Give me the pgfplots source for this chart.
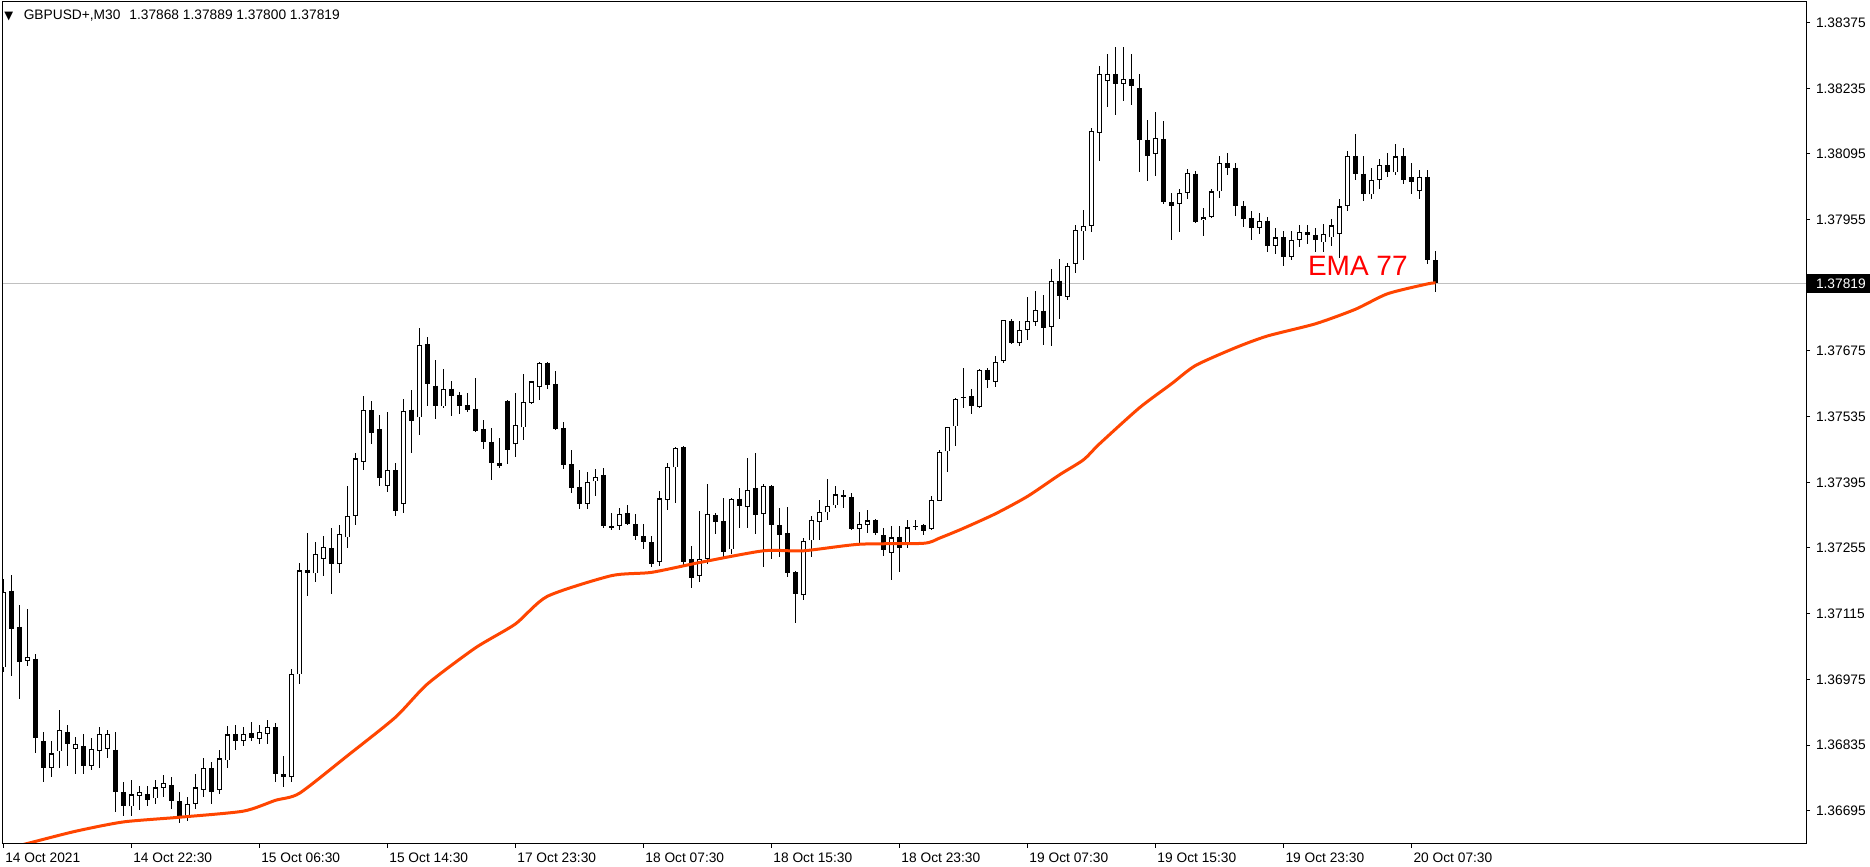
\documentclass[border=0pt]{standalone}
\usepackage{pgfplots}
\pgfplotsset{compat=1.18}
\usepackage{pgfplotstable}
\usepackage{fontspec}
\setmainfont{Liberation Sans}
\newfontfamily\symfont{DejaVu Sans}
\definecolor{emaline}{RGB}{255,69,0}
\definecolor{ematext}{RGB}{255,0,0}
\definecolor{priceline}{RGB}{192,192,192}

% GBPUSD M30 bars: index, open, high, low, close
\pgfplotstableread{
i o h l c
0 1.37001 1.37189 1.36991 1.37162
1 1.37164 1.37198 1.36983 1.37083
2 1.37087 1.37134 1.36933 1.37012
3 1.37014 1.37125 1.37004 1.37022
4 1.37019 1.37029 1.36817 1.36850
5 1.36843 1.36863 1.36756 1.36786
6 1.36786 1.36843 1.36766 1.36817
7 1.36822 1.36909 1.36786 1.36868
8 1.36863 1.36878 1.36791 1.36837
9 1.36827 1.36853 1.36773 1.36837
10 1.36832 1.36858 1.36773 1.36791
11 1.36791 1.36850 1.36781 1.36827
12 1.36822 1.36873 1.36786 1.36858
13 1.36827 1.36868 1.36807 1.36858
14 1.36825 1.36863 1.36692 1.36735
15 1.36735 1.36756 1.36684 1.36704
16 1.36704 1.36761 1.36684 1.36730
17 1.36727 1.36748 1.36697 1.36735
18 1.36730 1.36748 1.36704 1.36717
19 1.36722 1.36761 1.36710 1.36745
20 1.36743 1.36771 1.36725 1.36753
21 1.36750 1.36766 1.36699 1.36715
22 1.36715 1.36735 1.36669 1.36684
23 1.36684 1.36725 1.36674 1.36710
24 1.36710 1.36773 1.36699 1.36745
25 1.36740 1.36807 1.36725 1.36786
26 1.36786 1.36799 1.36710 1.36735
27 1.36740 1.36825 1.36730 1.36807
28 1.36802 1.36876 1.36786 1.36858
29 1.36858 1.36878 1.36825 1.36843
30 1.36843 1.36873 1.36832 1.36858
31 1.36860 1.36883 1.36843 1.36850
32 1.36848 1.36878 1.36837 1.36863
33 1.36858 1.36889 1.36837 1.36873
34 1.36873 1.36883 1.36756 1.36773
35 1.36773 1.36812 1.36745 1.36766
36 1.36766 1.36997 1.36756 1.36986
37 1.36986 1.37224 1.36965 1.37208
38 1.37209 1.37288 1.37152 1.37202
39 1.37201 1.37267 1.37183 1.37242
40 1.37232 1.37280 1.37196 1.37257
41 1.37255 1.37298 1.37157 1.37221
42 1.37221 1.37303 1.37201 1.37285
43 1.37278 1.37388 1.37255 1.37324
44 1.37324 1.37457 1.37303 1.37446
45 1.37439 1.37580 1.37421 1.37549
46 1.37549 1.37569 1.37477 1.37501
47 1.37508 1.37539 1.37388 1.37405
48 1.37388 1.37544 1.37375 1.37421
49 1.37421 1.37436 1.37324 1.37334
50 1.37349 1.37572 1.37329 1.37548
51 1.37550 1.37592 1.37457 1.37525
52 1.37534 1.37725 1.37495 1.37688
53 1.37690 1.37705 1.37557 1.37604
54 1.37601 1.37656 1.37529 1.37557
55 1.37557 1.37637 1.37554 1.37595
56 1.37595 1.37612 1.37537 1.37580
57 1.37582 1.37587 1.37541 1.37558
58 1.37560 1.37586 1.37544 1.37550
59 1.37552 1.37618 1.37504 1.37505
60 1.37509 1.37528 1.37467 1.37482
61 1.37482 1.37511 1.37400 1.37437
62 1.37437 1.37490 1.37426 1.37429
63 1.37569 1.37571 1.37434 1.37464
64 1.37476 1.37586 1.37449 1.37518
65 1.37512 1.37626 1.37486 1.37567
66 1.37565 1.37612 1.37562 1.37610
67 1.37599 1.37651 1.37571 1.37650
68 1.37650 1.37651 1.37594 1.37603
69 1.37605 1.37633 1.37507 1.37509
70 1.37511 1.37524 1.37424 1.37432
71 1.37434 1.37464 1.37373 1.37383
72 1.37386 1.37422 1.37339 1.37349
73 1.37349 1.37416 1.37339 1.37396
74 1.37397 1.37424 1.37365 1.37407
75 1.37411 1.37426 1.37298 1.37301
76 1.37301 1.37329 1.37294 1.37297
77 1.37302 1.37341 1.37294 1.37327
78 1.37329 1.37347 1.37304 1.37306
79 1.37306 1.37328 1.37272 1.37280
80 1.37280 1.37306 1.37252 1.37267
81 1.37267 1.37280 1.37214 1.37221
82 1.37226 1.37377 1.37216 1.37361
83 1.37357 1.37436 1.37336 1.37427
84 1.37427 1.37470 1.37351 1.37468
85 1.37470 1.37472 1.37216 1.37226
86 1.37232 1.37260 1.37170 1.37191
87 1.37196 1.37334 1.37183 1.37232
88 1.37232 1.37392 1.37221 1.37327
89 1.37325 1.37329 1.37285 1.37310
90 1.37312 1.37362 1.37234 1.37247
91 1.37252 1.37361 1.37242 1.37360
92 1.37360 1.37383 1.37298 1.37344
93 1.37342 1.37447 1.37298 1.37378
94 1.37383 1.37458 1.37285 1.37326
95 1.37327 1.37391 1.37214 1.37388
96 1.37388 1.37390 1.37231 1.37303
97 1.37304 1.37341 1.37235 1.37282
98 1.37287 1.37342 1.37193 1.37201
99 1.37203 1.37205 1.37095 1.37157
100 1.37154 1.37276 1.37144 1.37270
101 1.37271 1.37324 1.37235 1.37315
102 1.37311 1.37358 1.37272 1.37332
103 1.37331 1.37402 1.37314 1.37345
104 1.37346 1.37388 1.37340 1.37370
105 1.37368 1.37378 1.37340 1.37363
106 1.37364 1.37373 1.37294 1.37295
107 1.37295 1.37331 1.37264 1.37306
108 1.37304 1.37336 1.37287 1.37314
109 1.37315 1.37316 1.37282 1.37287
110 1.37282 1.37297 1.37237 1.37250
111 1.37245 1.37301 1.37187 1.37278
112 1.37279 1.37301 1.37204 1.37254
113 1.37263 1.37315 1.37255 1.37300
114 1.37302 1.37315 1.37294 1.37299
115 1.37304 1.37306 1.37283 1.37292
116 1.37295 1.37365 1.37294 1.37358
117 1.37356 1.37464 1.37355 1.37460
118 1.37461 1.37514 1.37418 1.37513
119 1.37514 1.37575 1.37473 1.37573
120 1.37577 1.37638 1.37553 1.37574
121 1.37579 1.37594 1.37540 1.37557
122 1.37555 1.37636 1.37553 1.37635
123 1.37635 1.37638 1.37596 1.37613
124 1.37609 1.37665 1.37599 1.37651
125 1.37653 1.37742 1.37650 1.37741
126 1.37739 1.37744 1.37689 1.37691
127 1.37692 1.37739 1.37685 1.37720
128 1.37719 1.37791 1.37699 1.37739
129 1.37736 1.37802 1.37729 1.37762
130 1.37761 1.37795 1.37688 1.37725
131 1.37727 1.37850 1.37686 1.37825
132 1.37825 1.37871 1.37744 1.37793
133 1.37791 1.37862 1.37783 1.37857
134 1.37861 1.37943 1.37841 1.37933
135 1.37930 1.37975 1.37869 1.37941
136 1.37941 1.38150 1.37928 1.38143
137 1.38140 1.38283 1.38079 1.38265
138 1.38250 1.38309 1.38196 1.38265
139 1.38265 1.38322 1.38177 1.38245
140 1.38245 1.38322 1.38207 1.38255
141 1.38255 1.38309 1.38199 1.38240
142 1.38235 1.38265 1.38056 1.38125
143 1.38125 1.38168 1.38037 1.38091
144 1.38095 1.38184 1.38049 1.38130
145 1.38127 1.38166 1.37989 1.37992
146 1.37993 1.38012 1.37911 1.37985
147 1.37989 1.38020 1.37928 1.38012
148 1.38012 1.38063 1.37999 1.38054
149 1.38053 1.38059 1.37949 1.37951
150 1.37954 1.37980 1.37920 1.37961
151 1.37961 1.38020 1.37958 1.38015
152 1.38015 1.38091 1.38002 1.38076
153 1.38076 1.38096 1.38050 1.38066
154 1.38066 1.38076 1.37962 1.37984
155 1.37985 1.37994 1.37940 1.37957
156 1.37958 1.37974 1.37912 1.37938
157 1.37938 1.37969 1.37925 1.37953
158 1.37953 1.37961 1.37887 1.37899
159 1.37899 1.37938 1.37881 1.37917
160 1.37917 1.37930 1.37856 1.37876
161 1.37876 1.37930 1.37869 1.37912
162 1.37912 1.37943 1.37897 1.37928
163 1.37928 1.37943 1.37902 1.37922
164 1.37922 1.37938 1.37887 1.37912
165 1.37907 1.37946 1.37887 1.37925
166 1.37917 1.37956 1.37899 1.37943
167 1.37925 1.37999 1.37874 1.37984
168 1.37984 1.38102 1.37974 1.38091
169 1.38091 1.38137 1.38040 1.38053
170 1.38053 1.38091 1.37994 1.38009
171 1.38009 1.38066 1.37999 1.38040
172 1.38040 1.38084 1.38020 1.38071
173 1.38071 1.38096 1.38045 1.38056
174 1.38056 1.38117 1.38050 1.38091
175 1.38091 1.38107 1.38032 1.38040
176 1.38045 1.38076 1.38009 1.38035
177 1.38015 1.38061 1.37999 1.38045
178 1.38045 1.38061 1.37861 1.37869
179 1.37868 1.37889 1.37800 1.37819
}\candles

\begin{document}
\begin{tikzpicture}
\useasboundingbox (-1.08pt,-9.2pt) rectangle (746.92pt,337.6pt);
\begin{axis}[
  at={(0,0)}, anchor=south west,
  scale only axis, width=721.32pt, height=336.8pt,
  xmin=-0.075, xmax=225.3, ymin=1.36624, ymax=1.38419,
  axis on top,
  axis line style={black, line width=0.4pt},
  tick style={black, line width=0.4pt},
  tick align=outside, major tick length=1.6pt,
  xtick pos=left, ytick pos=right, yticklabel pos=right,
  font=\fontsize{5.5}{6.5}\selectfont,
  xtick={0,16,...,176},
  xticklabels={14 Oct 2021, 14 Oct 22:30, 15 Oct 06:30, 15 Oct 14:30,
    17 Oct 23:30, 18 Oct 07:30, 18 Oct 15:30, 18 Oct 23:30,
    19 Oct 07:30, 19 Oct 15:30, 19 Oct 23:30, 20 Oct 07:30},
  xticklabel style={anchor=north west, inner sep=0pt, xshift=0.6pt, yshift=-1.6pt},
  ytick={1.36695,1.36835,1.36975,1.37115,1.37255,1.37395,1.37535,1.37675,
    1.37955,1.38095,1.38235,1.38375},
  yticklabels={1.36695,1.36835,1.36975,1.37115,1.37255,1.37395,1.37535,1.37675,
    1.37955,1.38095,1.38235,1.38375},
  yticklabel style={anchor=west, inner sep=0pt, xshift=2.2pt},
  extra y ticks={1.37819},
  extra y tick labels={1.37819},
  extra y tick style={yticklabel style={fill=black, text=white,
    inner xsep=3.8pt, inner ysep=1.8pt, xshift=-3.8pt}},
  candle/.style={draw=none, mark=none, forget plot,
    error bars/y dir=both, error bars/y explicit, error bars/error mark=none},
]
% current bid line
\addplot[priceline, line width=0.4pt, forget plot]
  coordinates {(-1,1.37819) (230,1.37819)};
% wicks
\addplot[candle, error bars/error bar style={draw=black, solid, line width=0.4pt}]
  table[x=i, y=c, y error plus expr=\thisrow{h}-\thisrow{c},
    y error minus expr=\thisrow{c}-\thisrow{l}] {\candles};
% bodies
\addplot[candle, error bars/error bar style={draw=black, solid, line width=2pt, line cap=butt}]
  table[x=i, y=o, y error plus expr={max(\thisrow{c}-\thisrow{o},0)},
    y error minus expr={max(\thisrow{o}-\thisrow{c},0)}] {\candles};
% hollow inside of rising bars
\addplot[candle, error bars/error bar style={draw=white, solid, line width=1.2pt, line cap=butt}]
  table[x=i, y expr={(\thisrow{o}+\thisrow{c})/2},
    y error expr={max((\thisrow{c}-\thisrow{o})/2-0.0000213,0)}] {\candles};
% EMA 77
\addplot[emaline, line width=1.2pt, smooth, tension=0.4] coordinates {
  (0,1.36612) (3,1.36625) (9,1.36651) (15,1.36671) (22,1.36681) (30,1.36694)
  (34,1.36717) (37,1.36732) (43,1.36812) (49,1.36894) (53,1.36965) (59,1.37042)
  (64,1.37093) (68,1.37152) (76,1.37196) (81,1.37203) (87,1.37224) (95,1.37249)
  (100,1.37249) (107,1.37263) (115,1.37265) (117,1.37276) (120,1.37297)
  (124,1.37328) (128,1.37365) (132,1.37411) (135,1.37443) (137,1.37477)
  (142,1.37554) (146,1.37605) (149,1.37644)
  (154,1.37682) (158,1.37707) (164,1.37733) (169,1.37764) (173,1.37797)
  (178,1.37818) (179,1.37820)};
\node[anchor=base west, inner sep=0pt, text=ematext,
  font=\fontsize{11.2}{13}\selectfont] at (axis cs:163.0,1.37836) {EMA 77};
\node[anchor=north west, inner sep=0pt, xshift=0.5pt, yshift=-2.9pt]
  at (rel axis cs:0,1)
  {{\symfont\fontsize{4.6}{5}\selectfont ▼}\hspace{4.2pt}GBPUSD+,M30\hspace{3.6pt}1.37868 1.37889 1.37800 1.37819};
\end{axis}
\end{tikzpicture}
\end{document}
